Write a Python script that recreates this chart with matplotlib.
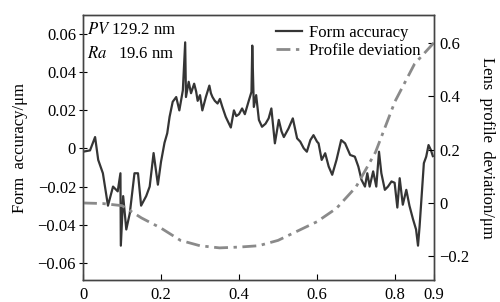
import numpy as np
import matplotlib.pyplot as plt

# form accuracy trace (um)
fa_x = [0.000, 0.018, 0.031, 0.039, 0.051, 0.064, 0.077, 0.089, 0.096, 0.097,
        0.103, 0.111, 0.120, 0.132, 0.141, 0.149, 0.162, 0.171, 0.181, 0.192,
        0.200, 0.209, 0.216, 0.222, 0.230, 0.239, 0.247, 0.256, 0.262, 0.264,
        0.271, 0.277, 0.285, 0.290, 0.294, 0.300, 0.306, 0.315, 0.324, 0.328,
        0.332, 0.338, 0.345, 0.351, 0.357, 0.362, 0.366, 0.372, 0.379, 0.387,
        0.393, 0.400, 0.408, 0.415, 0.425, 0.432, 0.434, 0.438, 0.444, 0.451,
        0.459, 0.468, 0.476, 0.483, 0.492, 0.502, 0.509, 0.515, 0.527, 0.538,
        0.549, 0.557, 0.566, 0.574, 0.583, 0.591, 0.600, 0.604, 0.612, 0.621,
        0.630, 0.639, 0.650, 0.662, 0.672, 0.685, 0.697, 0.706, 0.714, 0.723,
        0.729, 0.735, 0.744, 0.752, 0.759, 0.765, 0.774, 0.782, 0.791, 0.799,
        0.806, 0.812, 0.820, 0.829, 0.837, 0.846, 0.854, 0.859, 0.863, 0.874,
        0.880, 0.886, 0.892, 0.897]
fa_y = [-0.0017, -0.0010, 0.0060, -0.0060, -0.0130, -0.0300, -0.0200, -0.0225, -0.0130, -0.0510,
        -0.0250, -0.0425, -0.0340, -0.0130, -0.0130, -0.0300, -0.0250, -0.0200, -0.0024, -0.0190,
        -0.0070, 0.0030, 0.0080, 0.0166, 0.0245, 0.0270, 0.0200, 0.0305, 0.0557, 0.0270,
        0.0350, 0.0290, 0.0340, 0.0300, 0.0250, 0.0280, 0.0200, 0.0270, 0.0330, 0.0290,
        0.0270, 0.0250, 0.0236, 0.0260, 0.0220, 0.0190, 0.0166, 0.0140, 0.0110, 0.0200,
        0.0170, 0.0180, 0.0210, 0.0180, 0.0250, 0.0297, 0.0540, 0.0218, 0.0280, 0.0150,
        0.0114, 0.0130, 0.0158, 0.0210, 0.0027, 0.0150, 0.0090, 0.0060, 0.0105, 0.0158,
        0.0053, 0.0036, 0.0001, -0.0017, 0.0044, 0.0070, 0.0036, 0.0027, -0.0060, -0.0025,
        -0.0095, -0.0138, -0.0060, 0.0044, 0.0027, -0.0034, -0.0043, -0.0095, -0.0164, -0.0200,
        -0.0130, -0.0200, -0.0120, -0.0200, -0.0017, -0.0130, -0.0217, -0.0200, -0.0173, -0.0180,
        -0.0310, -0.0156, -0.0295, -0.0217, -0.0300, -0.0370, -0.0425, -0.0510, -0.0410, -0.0077,
        -0.0043, 0.0018, -0.0008, -0.0040]

# lens profile deviation (um), right axis
pd_x = [0.00, 0.05, 0.10, 0.15, 0.20, 0.25, 0.30, 0.35, 0.40, 0.45,
        0.50, 0.55, 0.60, 0.65, 0.70, 0.75, 0.80, 0.85, 0.90]
pd_y = [0.000, -0.002, -0.010, -0.056, -0.094, -0.140, -0.160, -0.168, -0.165, -0.160,
        -0.140, -0.105, -0.070, -0.020, 0.060, 0.190, 0.380, 0.520, 0.600]

x_ticks = [0, 0.2, 0.4, 0.6, 0.8, 0.9]
x_labels = ["0", "0.2", "0.4", "0.6", "0.8", "0.9"]
left_ticks = [-0.06, -0.04, -0.02, 0, 0.02, 0.04, 0.06]
left_labels = ["\u22120.06", "\u22120.04", "\u22120.02", "0", "0.02", "0.04", "0.06"]
right_ticks = [-0.2, 0, 0.2, 0.4, 0.6]
right_labels = ["\u22120.2", "0", "0.2", "0.4", "0.6"]

plt.rcParams['font.family'] = ['Liberation Serif', 'DejaVu Serif']
plt.rcParams['mathtext.fontset'] = 'stix'

fig = plt.figure(figsize=(5, 3.02), dpi=100)
ax = fig.add_axes([0.166, 0.073, 0.702, 0.877])
ax2 = ax.twinx()

l1, = ax.plot(fa_x, fa_y, color='#353535', lw=1.6, label="Form accuracy")
l2, = ax2.plot(pd_x, pd_y, color='#8a8a8a', lw=2.0, linestyle=(0, (5, 2, 1.2, 2)),
               label="Profile deviation")

ax.set_xlim(0, 0.9)
ax.set_ylim(-0.069, 0.07)
ax2.set_ylim(-0.288, 0.703)

ax.set_xticks(x_ticks)
ax.set_xticklabels(x_labels)
ax.set_yticks(left_ticks)
ax.set_yticklabels(left_labels)
ax2.set_yticks(right_ticks)
ax2.set_yticklabels(right_labels)

ax.tick_params(axis='x', direction='in', length=4, labelsize=12, pad=5)
ax.tick_params(axis='y', direction='inout', length=6, labelsize=12, pad=2)
ax2.tick_params(axis='y', direction='in', length=4, labelsize=12, pad=4)

for a in (ax, ax2):
    for s in a.spines.values():
        s.set_color('#444444')
        s.set_linewidth(1.0)

ax.set_ylabel("Form  accuracy/\u03bcm", fontsize=12, labelpad=7)
ax2.set_ylabel("Lens  profile  deviation/\u03bcm", fontsize=12, rotation=-90, labelpad=18)

ax.text(0.012, 0.975, "$\\mathit{PV}$ 129.2 nm", transform=ax.transAxes,
        fontsize=12, va='top', ha='left')
ax.text(0.012, 0.885, "$\\mathit{Ra}$   19.6 nm", transform=ax.transAxes,
        fontsize=12, va='top', ha='left')

ax.legend(handles=[l1, l2], loc='upper right', frameon=False, fontsize=12,
          handlelength=1.6, handletextpad=0.4, labelspacing=0.1,
          borderaxespad=0.2, bbox_to_anchor=(0.99, 1.0))

fig.savefig("out.png", dpi=100)
